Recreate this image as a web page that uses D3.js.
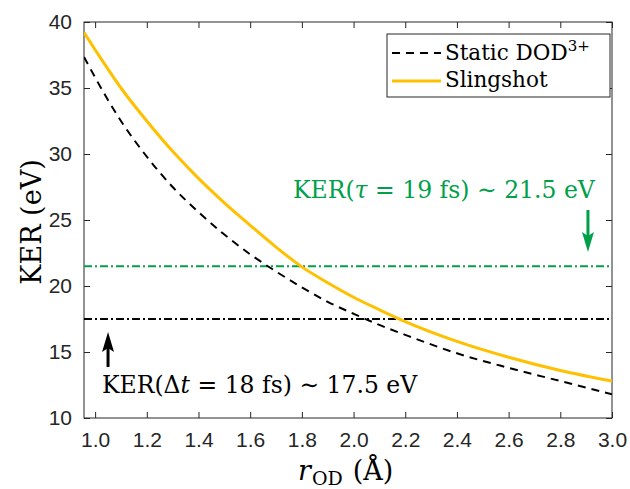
<!DOCTYPE html>
<html>
<head>
<meta charset="utf-8">
<script src="https://cdn.jsdelivr.net/npm/d3@7"></script>
<style>
  body { margin: 0; background: #fff; }
</style>
</head>
<body>
<script>
const width = 630, height = 489
const margin = ({top: 22, right: 18, bottom: 71, left: 84})

// data
const rOD = [0.957, 1.0, 1.1, 1.2, 1.3, 1.4, 1.5, 1.6, 1.7, 1.8, 1.9, 2.0, 2.1, 2.2, 2.4, 2.6, 2.8, 3.0]
const kerStatic = [37.35, 35.8, 32.5, 29.8, 27.5, 25.6, 23.9, 22.4, 21.1, 19.9, 18.8, 17.9, 17.05, 16.3, 14.9, 13.8, 12.8, 11.8]
const kerSlingshot = [39.2, 37.9, 35.0, 32.5, 30.2, 28.15, 26.3, 24.6, 22.95, 21.45, 20.25, 19.15, 18.2, 17.3, 15.8, 14.6, 13.6, 12.8]
const xTicks = [1.0, 1.2, 1.4, 1.6, 1.8, 2.0, 2.2, 2.4, 2.6, 2.8, 3.0]
const yTicks = [10, 15, 20, 25, 30, 35, 40]
const kerTau = 21.5
const kerDelta = 17.5

const serif = "'DejaVu Serif', serif"
const sans = "'Liberation Sans', Arial, sans-serif"
const yellow = "#ffc000"
const green = "#00a04a"
const axisCol = "#262626"

const x = d3.scaleLinear().domain([0.957, 3.0]).range([margin.left, width - margin.right])
const y = d3.scaleLinear().domain([10, 40]).range([height - margin.bottom, margin.top])

const svg = d3.select("body").append("svg")
    .attr("width", width).attr("height", height)
    .attr("viewBox", [0, 0, width, height])

const plotW = x.range()[1] - x.range()[0]
const plotH = y.range()[0] - y.range()[1]

// plot box
svg.append("rect")
    .attr("x", margin.left).attr("y", margin.top)
    .attr("width", plotW).attr("height", plotH)
    .attr("fill", "none").attr("stroke", axisCol).attr("stroke-width", 1)

// axes with inward ticks, mirrored on top and right
const styleAxis = g => {
  g.select(".domain").remove()
  g.selectAll(".tick line").attr("stroke", axisCol)
  g.selectAll(".tick text").attr("font-family", sans).attr("font-size", 21).attr("fill", axisCol)
}
svg.append("g").attr("transform", `translate(0,${y(10)})`)
    .call(d3.axisBottom(x).tickValues(xTicks).tickFormat(d3.format(".1f")).tickSizeInner(-6).tickPadding(14))
    .call(styleAxis)
svg.append("g").attr("transform", `translate(0,${y(40)})`)
    .call(d3.axisTop(x).tickValues(xTicks).tickFormat("").tickSizeInner(-6))
    .call(styleAxis)
svg.append("g").attr("transform", `translate(${margin.left},0)`)
    .call(d3.axisLeft(y).tickValues(yTicks).tickSizeInner(-6).tickPadding(12))
    .call(styleAxis)
svg.append("g").attr("transform", `translate(${width - margin.right},0)`)
    .call(d3.axisRight(y).tickValues(yTicks).tickFormat("").tickSizeInner(-6))
    .call(styleAxis)

svg.append("clipPath").attr("id", "clip").append("rect")
    .attr("x", margin.left).attr("y", margin.top)
    .attr("width", plotW).attr("height", plotH)

const plot = svg.append("g").attr("clip-path", "url(#clip)")

// horizontal reference lines (dash-dot)
plot.append("line")
    .attr("x1", x.range()[0]).attr("x2", x.range()[1])
    .attr("y1", y(kerTau)).attr("y2", y(kerTau))
    .attr("stroke", green).attr("stroke-width", 2).attr("stroke-dasharray", "8,3,2,3")
plot.append("line")
    .attr("x1", x.range()[0]).attr("x2", x.range()[1])
    .attr("y1", y(kerDelta)).attr("y2", y(kerDelta))
    .attr("stroke", "#000").attr("stroke-width", 2).attr("stroke-dasharray", "8,3,2,3")

const line = d3.line().curve(d3.curveMonotoneX)

plot.append("path")
    .attr("d", line(rOD.map((r, i) => [x(r), y(kerStatic[i])])))
    .attr("fill", "none").attr("stroke", "#000").attr("stroke-width", 2)
    .attr("stroke-dasharray", "8,6")
plot.append("path")
    .attr("d", line(rOD.map((r, i) => [x(r), y(kerSlingshot[i])])))
    .attr("fill", "none").attr("stroke", yellow).attr("stroke-width", 3)

// arrows
const arrow = (xPos, yFrom, yTo, color, headLen, headW) => {
  const dir = Math.sign(yTo - yFrom)
  svg.append("line").attr("x1", xPos).attr("x2", xPos)
      .attr("y1", yFrom).attr("y2", yTo - dir * headLen * 0.6)
      .attr("stroke", color).attr("stroke-width", 3)
  svg.append("path")
      .attr("d", `M${xPos - headW / 2},${yTo - dir * headLen}L${xPos},${yTo}L${xPos + headW / 2},${yTo - dir * headLen}L${xPos},${yTo - dir * headLen * 0.8}Z`)
      .attr("fill", color)
}
arrow(x(2.907), y(25.76), y(22.58), green, 20, 12)
arrow(x(1.05), y(13.86), y(16.52), "#000", 20, 12)

// annotations
const t1 = svg.append("text")
    .attr("x", 293).attr("y", 198)
    .attr("font-family", serif).attr("font-size", 23.5).attr("fill", green)
t1.append("tspan").text("KER(")
t1.append("tspan").attr("font-style", "italic").text("τ")
t1.append("tspan").text(" = 19 fs) ∼ 21.5 eV")

const t2 = svg.append("text")
    .attr("x", 102).attr("y", 393)
    .attr("font-family", serif).attr("font-size", 23.5).attr("fill", "#000")
t2.append("tspan").text("KER(Δ")
t2.append("tspan").attr("font-style", "italic").text("t")
t2.append("tspan").text(" = 18 fs) ∼ 17.5 eV")

// axis labels
svg.append("text")
    .attr("transform", `translate(41,${(y(10) + y(40)) / 2 + 2}) rotate(-90)`)
    .attr("text-anchor", "middle")
    .attr("font-family", serif).attr("font-size", 27).attr("fill", "#000")
    .text("KER (eV)")

const xl = svg.append("text")
    .attr("x", 298).attr("y", 480)
    .attr("font-family", serif).attr("font-size", 27).attr("fill", "#000")
xl.append("tspan").attr("font-style", "italic").text("r")
xl.append("tspan").attr("font-size", 19).attr("dy", 5).attr("dx", 1).text("OD")
xl.append("tspan").attr("dy", -5).attr("dx", 10).text("(Å)")

// legend
const lg = svg.append("g").attr("transform", "translate(387,34)")
lg.append("rect").attr("width", 223).attr("height", 63)
    .attr("fill", "#fff").attr("stroke", axisCol).attr("stroke-width", 1)
lg.append("line").attr("x1", 5).attr("x2", 54).attr("y1", 19).attr("y2", 19)
    .attr("stroke", "#000").attr("stroke-width", 2).attr("stroke-dasharray", "8,6")
lg.append("line").attr("x1", 5).attr("x2", 54).attr("y1", 47).attr("y2", 47)
    .attr("stroke", yellow).attr("stroke-width", 3)
const l1 = lg.append("text").attr("x", 58).attr("y", 26)
    .attr("font-family", serif).attr("font-size", 21.5).attr("fill", "#000")
l1.append("tspan").text("Static DOD")
l1.append("tspan").attr("font-size", 15).attr("dy", -9).text("3+")
lg.append("text").attr("x", 58).attr("y", 53)
    .attr("font-family", serif).attr("font-size", 21.5).attr("fill", "#000")
    .text("Slingshot")
</script>
</body>
</html>
